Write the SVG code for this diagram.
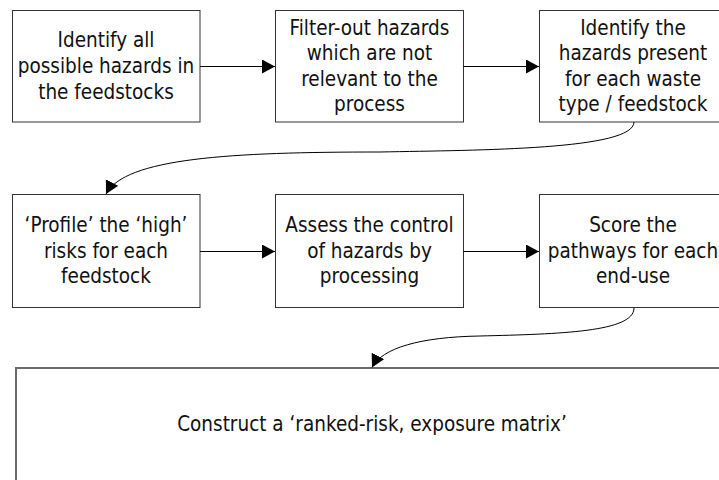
<svg xmlns="http://www.w3.org/2000/svg" width="719" height="480" viewBox="0 0 719 480">
<style>
.box{fill:#fff;stroke:#333;stroke-width:1}
.big{fill:#fff;stroke:#6a6a6a;stroke-width:2}
text{font-family:"DejaVu Sans Condensed","DejaVu Sans",Tahoma,sans-serif;font-size:20.5px;fill:#111;text-anchor:middle}
.con{fill:none;stroke:#000;stroke-width:1;marker-end:url(#ah)}
</style>
<defs>
<marker id="ah" markerUnits="userSpaceOnUse" markerWidth="14" markerHeight="15" refX="13" refY="7" orient="auto" viewBox="0 0 14 15">
<path d="M0,0 L13,7 L0,14 z" fill="#000"/>
</marker>
</defs>
<rect width="719" height="480" fill="#fff"/>
<g id="n1"><rect class="box" x="12.5" y="10.5" width="187.5" height="111.5"/>
<text x="106" y="47">Identify all</text><text x="106" y="73">possible hazards in</text><text x="106" y="99">the feedstocks</text></g>
<g id="n2"><rect class="box" x="275.5" y="10.5" width="188" height="111.5"/>
<text x="369.5" y="35">Filter-out hazards</text><text x="369.5" y="60">which are not</text><text x="369.5" y="85.5">relevant to the</text><text x="369.5" y="110.5">process</text></g>
<g id="n3"><rect class="box" x="539.5" y="10.5" width="188" height="111.5"/>
<text x="633" y="35">Identify the</text><text x="633" y="60">hazards present</text><text x="633" y="85.5">for each waste</text><text x="633" y="110.5">type / feedstock</text></g>
<g id="n4"><rect class="box" x="12.5" y="194.5" width="187.5" height="113"/>
<text x="106" y="232">‘Profile’ the ‘high’</text><text x="106" y="257.5">risks for each</text><text x="106" y="283">feedstock</text></g>
<g id="n5"><rect class="box" x="275.5" y="194.5" width="188" height="113"/>
<text x="369.5" y="232">Assess the control</text><text x="369.5" y="257.5">of hazards by</text><text x="369.5" y="283">processing</text></g>
<g id="n6"><rect class="box" x="539.5" y="194.5" width="188" height="113"/>
<text x="633" y="232">Score the</text><text x="633" y="257.5">pathways for each</text><text x="633" y="283">end-use</text></g>
<g id="n7"><rect class="big" x="16" y="368" width="712" height="130"/>
<text x="372" y="431">Construct a ‘ranked-risk, exposure matrix’</text></g>
<g id="connectors">
<path class="con" d="M200,66.5 L275,66.5"/>
<path class="con" d="M463.5,66.5 L539,66.5"/>
<path class="con" d="M200,251.5 L275,251.5"/>
<path class="con" d="M463.5,251.5 L539,251.5"/>
<path class="con" d="M634,122 C634,150 480,150 380,152 C230,152 125,158 106,194"/>
<path class="con" d="M634,308 C634,332 560,334 480,336 C420,337 382,348 372,367.5"/>
</g>
</svg>
